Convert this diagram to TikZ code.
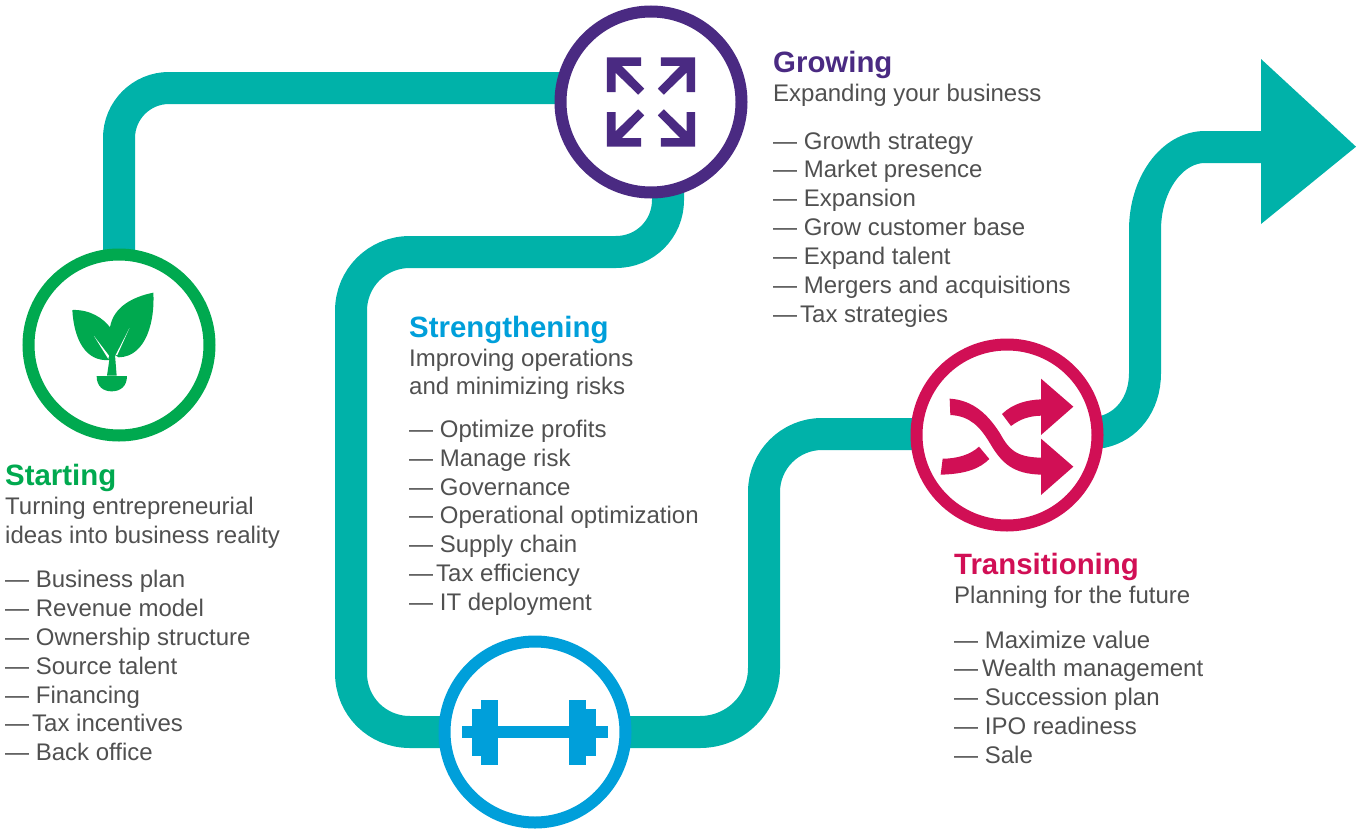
\documentclass[tikz,border=0pt]{standalone}
\usepackage{fontspec}
\setmainfont{Liberation Sans}
\pgfdeclarelayer{background}
\pgfsetlayers{background,main}
\definecolor{teal1}{HTML}{00B2A9}
\definecolor{leaf}{HTML}{00A94F}
\definecolor{purp}{HTML}{4A2A82}
\definecolor{pinkr}{HTML}{D10F55}
\definecolor{sky}{HTML}{009FDA}
\definecolor{txt}{HTML}{505050}
\tikzset{
  stage/.style={circle,draw=#1,line width=12pt,fill=white,minimum size=181pt,inner sep=0pt},
  pipe/.style={draw=teal1,line width=32pt},
  headg/.style={anchor=base west,inner sep=0pt,font=\fontsize{29.4}{30}\selectfont\bfseries,text=#1},
  line/.style={anchor=base west,inner sep=0pt,yshift=1pt,font=\fontsize{24}{29}\selectfont,text=txt},
}
\begin{document}
\begin{tikzpicture}[x=1pt,y=-1pt]
\useasboundingbox (0,0) rectangle (1360,830);
\node[stage=leaf] (start) at (119,345) {};
\node[stage=purp] (grow) at (651,102) {};
\node[stage=pinkr] (trans) at (1007,435) {};
\node[stage=sky] (strong) at (535,732) {};
\coordinate (arrowbase) at (1265,147);
\begin{pgfonlayer}{background}
\draw[pipe,rounded corners=50pt] (start.center) |- ([yshift=14pt]grow.center);
\draw[pipe] ([xshift=17pt]grow.center) -- (668,200) .. controls (668,229) and (645,252) .. (616,252)
  -- (410,252) .. controls (377,252) and (351,278) .. (351,311)
  -- (351,673) .. controls (351,706) and (377,732) .. (410,732) -- (strong.center);
\draw[pipe] (strong.center) -- (700,732) .. controls (735,732) and (764,704) .. (764,668)
  -- (764,492) .. controls (764,460) and (790,434) .. (822,434) -- ([yshift=1pt]trans.center);
\draw[pipe] (trans.center) -- (1102,432) .. controls (1126,427) and (1145,405) .. (1145,373)
  -- (1145,230) .. controls (1145,184) and (1172,147) .. (1205,147) -- (arrowbase);
\end{pgfonlayer}
\fill[teal1] (1261,59) -- (1356,146.7) -- (1261,224) -- cycle;
% plant
\begin{scope}[shift={(0,240)},scale=1/3]
\fill[leaf] (217,210) .. controls (270,208) and (310,235) .. (330,262)
  .. controls (340,200) and (400,170) .. (460,158)
  .. controls (465,240) and (440,350) .. (356,352)
  -- (345,345) -- (350,407) -- (321,407) -- (328,360)
  .. controls (258,366) and (222,300) .. (217,210) -- cycle;
\fill[white] (282,288) -- (327,347) -- (325,357) -- cycle;
\fill[white] (388,265) -- (347,345) -- (352,345) -- cycle;
\fill[leaf] (290,408) -- (381,408) .. controls (381,440) and (360,454) .. (335,454) .. controls (310,454) and (290,440) .. (290,408) -- cycle;
\end{scope}
% expand arrows
\foreach \sx/\sy in {1/1,-1/1,1/-1,-1/-1}{
\begin{scope}[shift={(651,102)},xscale=\sx,yscale=\sy]
\fill[purp] (-44.2,-44.7) -- (-9.8,-44.7) -- (-9.8,-36.2) -- (-29.2,-36.2) -- (-6.8,-13.3) -- (-12.8,-7.3) -- (-35.5,-29.3) -- (-35.5,-10) -- (-44.2,-10) -- cycle;
\end{scope}}
% shuffle
\begin{scope}[shift={(900,320)},scale=1/3]
\fill[pinkr] (423,176) -- (520,260) -- (423,345) -- cycle;
\fill[pinkr] (423,356) -- (520,440) -- (423,525) -- cycle;
\fill[pinkr] (149,236) .. controls (220,240) and (265,285) .. (300,340) .. controls (325,385) and (345,412) .. (424,413) -- (424,464) .. controls (340,462) and (305,430) .. (270,370) .. controls (240,320) and (210,288) .. (151,285) -- cycle;
\fill[pinkr] (306,282) .. controls (340,250) and (380,240) .. (424,238) -- (424,287) .. controls (385,288) and (360,298) .. (333,318) -- cycle;
\fill[pinkr] (122,464) .. controls (200,462) and (240,445) .. (268,417) -- (237,380) .. controls (210,405) and (170,416) .. (128,416) -- cycle;
\end{scope}
% dumbbell
\begin{scope}[shift={(430,630)},scale=1/3]
\fill[sky] (96,288) rectangle (534,323);
\fill[sky] (126,237) rectangle (204,378);
\fill[sky] (153,210) rectangle (204,405);
\fill[sky] (417,210) rectangle (468,405);
\fill[sky] (417,237) rectangle (498,378);
\end{scope}
% Starting
\node[headg=leaf] (s0) at (5,485) {Starting};
\node[line] (s1) at (5,515) {Turning entrepreneurial};
\node[line] (s2) at (5,544) {ideas into business reality};
\node[line] (s3) at (5,588) {— Business plan};
\node[line] (s4) at (5,617) {— Revenue model};
\node[line] (s5) at (5,646) {— Ownership structure};
\node[line] (s6) at (5,675) {— Source talent};
\node[line] (s7) at (5,704) {— Financing};
\node[line] (s8) at (5,732) {—\kern3pt Tax incentives};
\node[line] (s9) at (5,761) {— Back office};
% Growing
\node[headg=purp] (g0) at (773,72) {Growing};
\node[line] (g1) at (773,102) {Expanding your business};
\node[line] (g2) at (773,150) {— Growth strategy};
\node[line] (g3) at (773,178) {— Market presence};
\node[line] (g4) at (773,207) {— Expansion};
\node[line] (g5) at (773,236) {— Grow customer base};
\node[line] (g6) at (773,265) {— Expand talent};
\node[line] (g7) at (773,294) {— Mergers and acquisitions};
\node[line] (g8) at (773,323) {—\kern3pt Tax strategies};
% Strengthening
\node[headg=sky] (t0) at (409,337) {Strengthening};
\node[line] (t1) at (409,367) {Improving operations};
\node[line] (t2) at (409,395) {and minimizing risks};
\node[line] (t3) at (409,438) {— Optimize profits};
\node[line] (t4) at (409,467) {— Manage risk};
\node[line] (t5) at (409,496) {— Governance};
\node[line] (t6) at (409,524) {— Operational optimization};
\node[line] (t7) at (409,553) {— Supply chain};
\node[line] (t8) at (409,582) {—\kern3pt Tax efficiency};
\node[line] (t9) at (409,611) {— IT deployment};
% Transitioning
\node[headg=pinkr] (r0) at (954,574) {Transitioning};
\node[line] (r1) at (954,604) {Planning for the future};
\node[line] (r2) at (954,649) {— Maximize value};
\node[line] (r3) at (954,677) {—\kern4pt Wealth management};
\node[line] (r4) at (954,706) {— Succession plan};
\node[line] (r5) at (954,735) {— IPO readiness};
\node[line] (r6) at (954,764) {— Sale};
\end{tikzpicture}
\end{document}
